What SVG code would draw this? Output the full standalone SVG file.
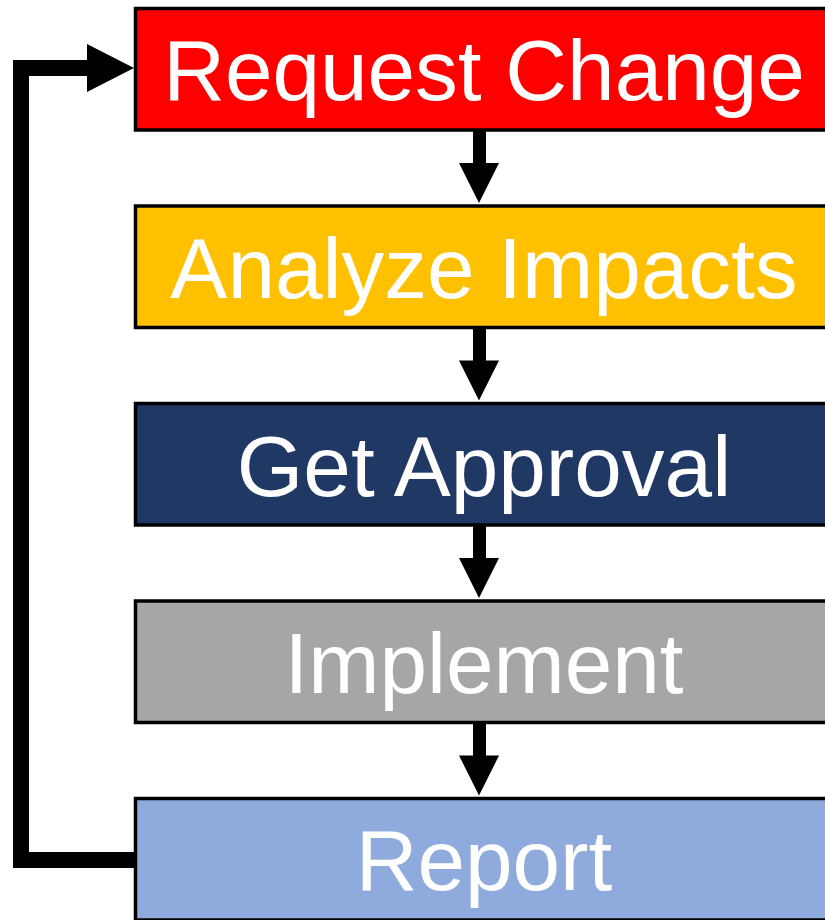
<svg xmlns="http://www.w3.org/2000/svg" width="825" height="920" viewBox="0 0 825 920">
<style>
.box{stroke:#000;stroke-width:3.5}
.lbl{font-family:"Liberation Sans",Arial,sans-serif;font-size:85.5px;fill:#fff;text-anchor:middle}
</style>
<rect width="825" height="920" fill="#fff"/>
<g id="connectors" fill="#000">
<path d="M134,860 H21 V68 H88" fill="none" stroke="#000" stroke-width="16"/>
<polygon points="87,44 134,68 87,92"/>
<g id="down-arrows">
<rect x="473" y="131" width="13" height="33"/><polygon points="459,163 499,163 479,203"/>
<rect x="473" y="328.5" width="13" height="33"/><polygon points="459,360.5 499,360.5 479,400.5"/>
<rect x="473" y="526" width="13" height="33"/><polygon points="459,558 499,558 479,598"/>
<rect x="473" y="723.5" width="13" height="33"/><polygon points="459,755.5 499,755.5 479,795.5"/>
</g>
</g>
<g id="node-request">
<rect class="box" x="135.5" y="8.5" width="700" height="121.5" fill="#FF0000"/>
<text class="lbl" x="484" y="100">Request Change</text>
</g>
<g id="node-analyze">
<rect class="box" x="135.5" y="206" width="700" height="121.5" fill="#FFC000"/>
<text class="lbl" x="484" y="298">Analyze Impacts</text>
</g>
<g id="node-approval">
<rect class="box" x="135.5" y="403.5" width="700" height="121.5" fill="#203864"/>
<text class="lbl" x="484" y="496">Get Approval</text>
</g>
<g id="node-implement">
<rect class="box" x="135.5" y="601" width="700" height="121.5" fill="#A6A6A6"/>
<text class="lbl" x="484" y="693">Implement</text>
</g>
<g id="node-report">
<rect class="box" x="135.5" y="798.5" width="700" height="121.5" fill="#8FAADC"/>
<text class="lbl" x="484" y="890">Report</text>
</g>
</svg>
